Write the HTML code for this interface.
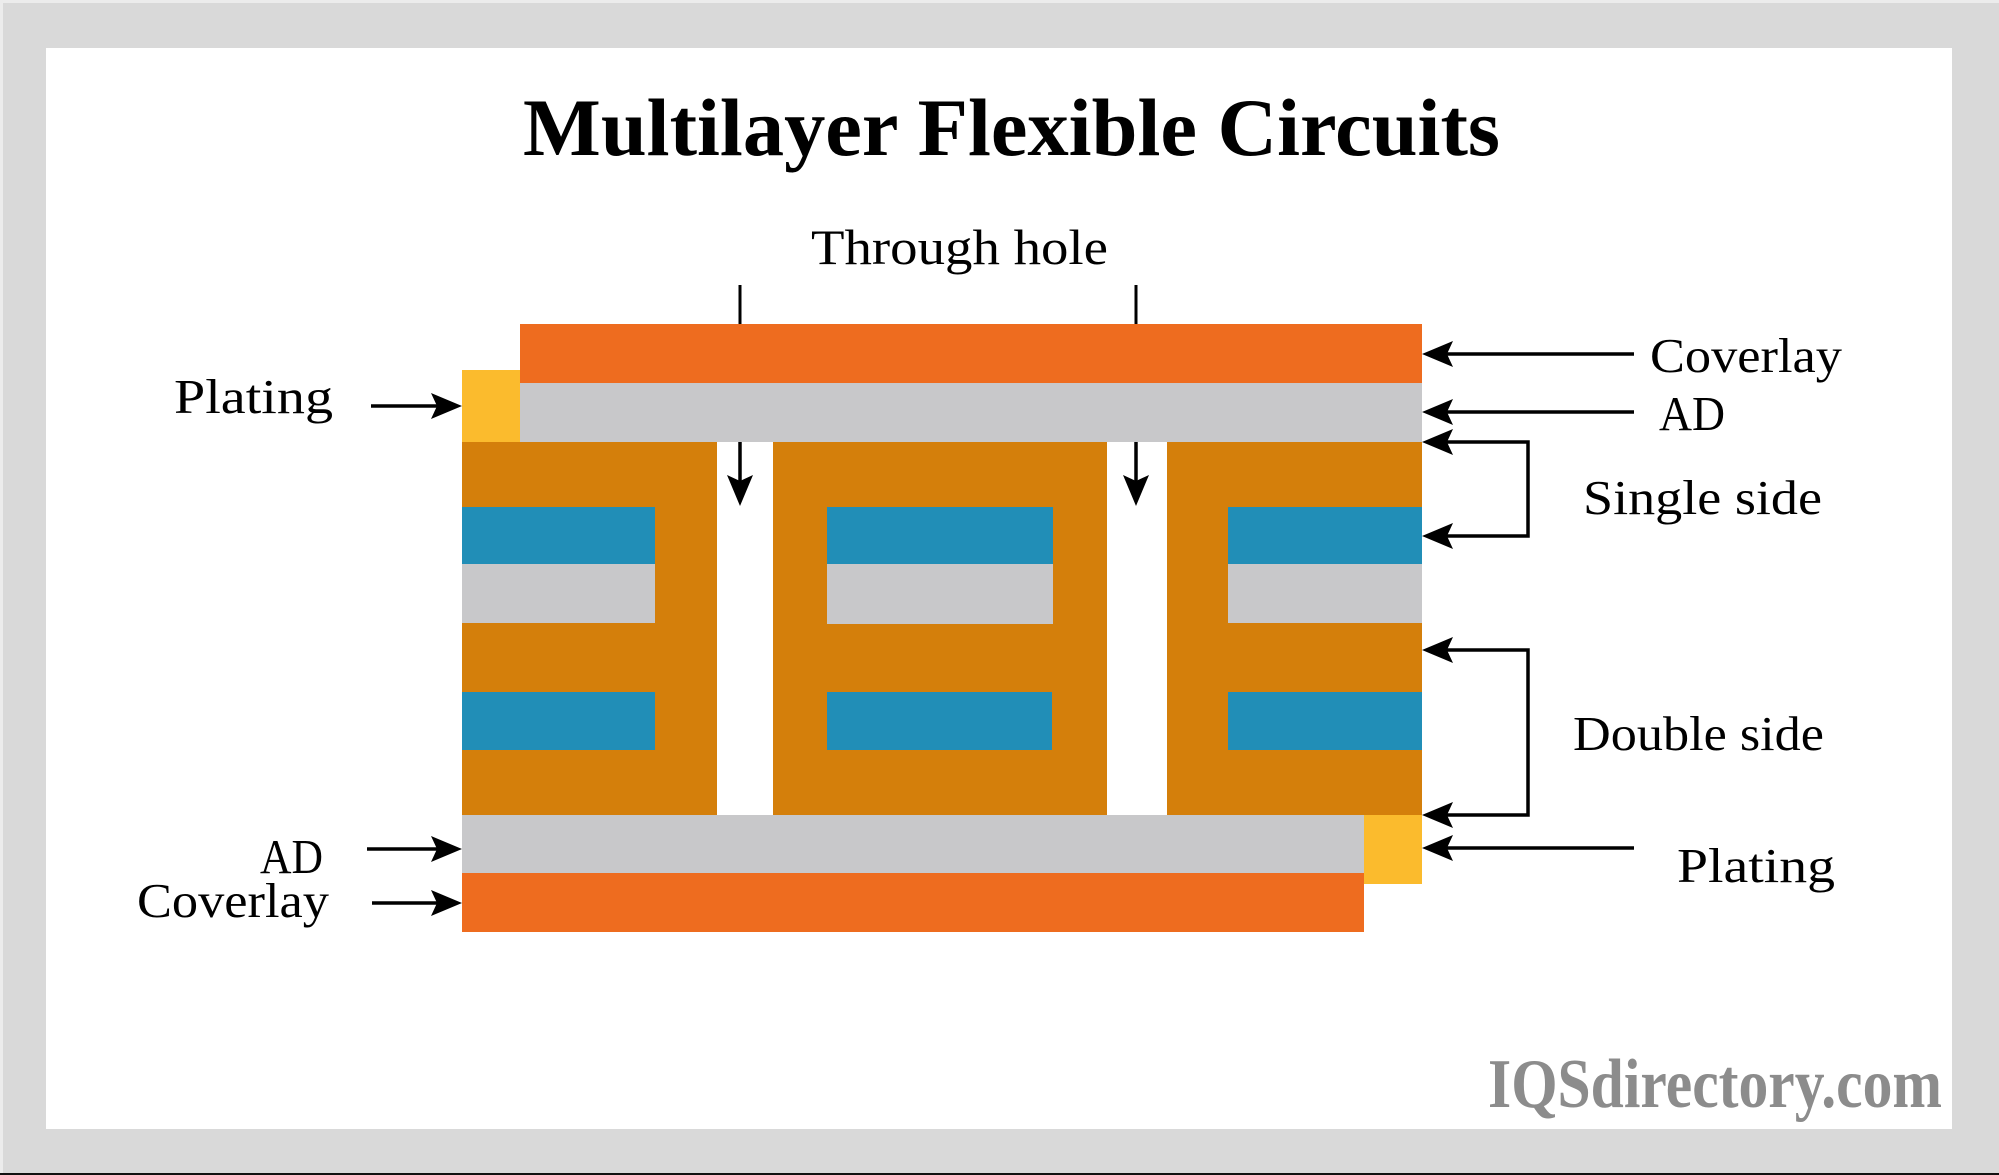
<!DOCTYPE html>
<html>
<head>
<meta charset="utf-8">
<style>
html,body{margin:0;padding:0;background:#d9d9d9;}
svg{display:block;}
text{font-family:"Liberation Serif","DejaVu Serif",serif;}
</style>
</head>
<body>
<svg width="1999" height="1175" viewBox="0 0 1999 1175" xmlns="http://www.w3.org/2000/svg">
  <!-- frame -->
  <rect x="0" y="0" width="1999" height="1175" fill="#d9d9d9"/>
  <rect x="0" y="0" width="1999" height="3" fill="#ececec"/>
  <rect x="0" y="0" width="3" height="1175" fill="#ececec"/>
  <rect x="46" y="48" width="1906" height="1081" fill="#ffffff"/>
  <rect x="0" y="1173" width="1999" height="2" fill="#111"/>

  <!-- title -->
  <text x="523" y="155" font-size="82" font-weight="bold" fill="#000" textLength="977" lengthAdjust="spacingAndGlyphs">Multilayer Flexible Circuits</text>

  <!-- Through hole -->
  <text x="811" y="264" font-size="50" fill="#000" textLength="297" lengthAdjust="spacingAndGlyphs">Through hole</text>
  <line x1="740" y1="285" x2="740" y2="324" stroke="#000" stroke-width="3"/>
  <line x1="1136" y1="285" x2="1136" y2="324" stroke="#000" stroke-width="3"/>

  <!-- top coverlay & AD -->
  <rect x="520" y="324" width="902" height="59" fill="#ee6c1f"/>
  <rect x="520" y="383" width="902" height="59" fill="#c8c8ca"/>
  <rect x="462" y="370" width="58" height="72" fill="#fbbb2d"/>

  <!-- orange blocks -->
  <rect x="462" y="442" width="255" height="373" fill="#d47f0b"/>
  <rect x="773" y="442" width="334" height="373" fill="#d47f0b"/>
  <rect x="1167" y="442" width="255" height="373" fill="#d47f0b"/>

  <!-- inner layers row1 -->
  <rect x="462" y="507" width="193" height="57" fill="#218eb7"/>
  <rect x="462" y="564" width="193" height="59" fill="#c8c8ca"/>
  <rect x="827" y="507" width="226" height="57" fill="#218eb7"/>
  <rect x="827" y="564" width="226" height="60" fill="#c8c8ca"/>
  <rect x="1228" y="507" width="194" height="57" fill="#218eb7"/>
  <rect x="1228" y="564" width="194" height="59" fill="#c8c8ca"/>
  <!-- row2 -->
  <rect x="462" y="692" width="193" height="58" fill="#218eb7"/>
  <rect x="827" y="692" width="225" height="58" fill="#218eb7"/>
  <rect x="1228" y="692" width="194" height="58" fill="#218eb7"/>

  <!-- bottom AD & coverlay -->
  <rect x="462" y="815" width="902" height="58" fill="#c8c8ca"/>
  <rect x="462" y="873" width="902" height="59" fill="#ee6c1f"/>
  <rect x="1364" y="815" width="58" height="69" fill="#fbbb2d"/>

  <!-- down arrows in holes -->
  <line x1="740" y1="442" x2="740" y2="488" stroke="#000" stroke-width="3.5"/>
  <polygon points="740,506 727,475 740,481 753,475" fill="#000"/>
  <line x1="1136" y1="442" x2="1136" y2="488" stroke="#000" stroke-width="3.5"/>
  <polygon points="1136,506 1123,475 1136,481 1149,475" fill="#000"/>

  <!-- right side arrows -->
  <g stroke="#000" stroke-width="3.5" fill="none">
    <line x1="1445" y1="354" x2="1634" y2="354"/>
    <line x1="1445" y1="412" x2="1634" y2="412"/>
    <polyline points="1445,442 1528,442 1528,536 1445,536"/>
    <polyline points="1445,650 1528,650 1528,815 1445,815"/>
    <line x1="1445" y1="848" x2="1634" y2="848"/>
  </g>
  <g fill="#000">
    <polygon points="1422,354 1453,341 1447,354 1453,367"/>
    <polygon points="1422,412 1453,399 1447,412 1453,425"/>
    <polygon points="1422,442 1453,429 1447,442 1453,455"/>
    <polygon points="1422,536 1453,523 1447,536 1453,549"/>
    <polygon points="1422,650 1453,637 1447,650 1453,663"/>
    <polygon points="1422,815 1453,802 1447,815 1453,828"/>
    <polygon points="1422,848 1453,835 1447,848 1453,861"/>
  </g>

  <!-- left side arrows -->
  <g stroke="#000" stroke-width="3.5">
    <line x1="371" y1="406" x2="440" y2="406"/>
    <line x1="367" y1="849" x2="440" y2="849"/>
    <line x1="372" y1="903" x2="440" y2="903"/>
  </g>
  <g fill="#000">
    <polygon points="462,406 431,393 437,406 431,419"/>
    <polygon points="462,849 431,836 437,849 431,862"/>
    <polygon points="462,903 431,890 437,903 431,916"/>
  </g>

  <!-- labels -->
  <g fill="#000" font-size="49">
    <text x="1650" y="372" textLength="192" lengthAdjust="spacingAndGlyphs">Coverlay</text>
    <text x="1659" y="430" textLength="66" lengthAdjust="spacingAndGlyphs">AD</text>
    <text x="1583" y="514" textLength="239" lengthAdjust="spacingAndGlyphs">Single side</text>
    <text x="1573" y="750" textLength="251" lengthAdjust="spacingAndGlyphs">Double side</text>
    <text x="1677" y="882" textLength="158" lengthAdjust="spacingAndGlyphs">Plating</text>
    <text x="174" y="413" textLength="159" lengthAdjust="spacingAndGlyphs">Plating</text>
    <text x="260" y="873" textLength="63" lengthAdjust="spacingAndGlyphs">AD</text>
    <text x="137" y="917" textLength="192" lengthAdjust="spacingAndGlyphs">Coverlay</text>
  </g>

  <!-- logo -->
  <text x="1488" y="1107" font-size="70" font-weight="bold" fill="#8c8c8c" textLength="454" lengthAdjust="spacingAndGlyphs">IQSdirectory.com</text>
</svg>
</body>
</html>
